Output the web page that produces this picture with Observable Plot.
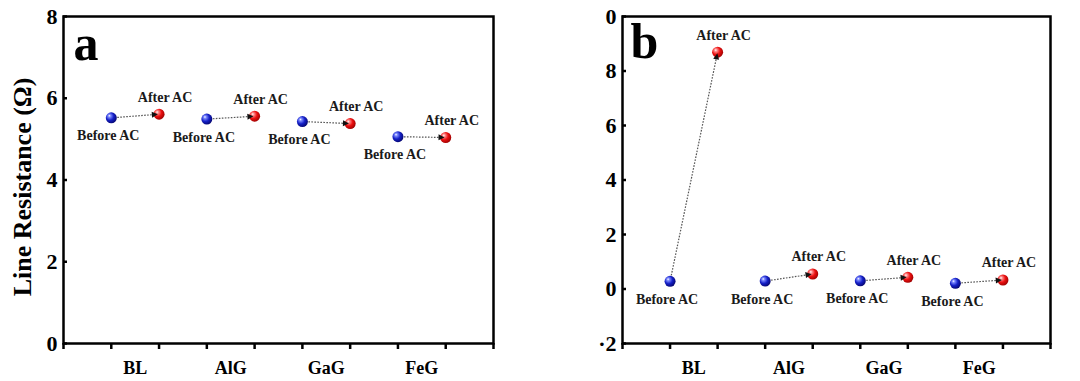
<!DOCTYPE html>
<html>
<head>
<meta charset="utf-8">
<script src="https://cdn.jsdelivr.net/npm/d3@7"></script>
<script src="https://cdn.jsdelivr.net/npm/@observablehq/plot@0.6"></script>
<style>
  html, body { margin: 0; padding: 0; background: #ffffff; }
  #wrap { display: flex; width: 1080px; height: 381px; }
</style>
</head>
<body>
<svg width="0" height="0" style="position:absolute">
  <defs>
    <radialGradient id="gBlue" cx="0.4" cy="0.4" r="0.65" fx="0.32" fy="0.3">
      <stop offset="0" stop-color="#ffffff"/>
      <stop offset="0.18" stop-color="#7f8cff"/>
      <stop offset="0.55" stop-color="#1520c8"/>
      <stop offset="1" stop-color="#04046a"/>
    </radialGradient>
    <radialGradient id="gRed" cx="0.4" cy="0.4" r="0.65" fx="0.32" fy="0.3">
      <stop offset="0" stop-color="#ffffff"/>
      <stop offset="0.18" stop-color="#ff9090"/>
      <stop offset="0.55" stop-color="#ec1010"/>
      <stop offset="1" stop-color="#980000"/>
    </radialGradient>
  </defs>
</svg>
<div id="wrap"></div>
<script>
const categories = ["BL", "AlG", "GaG", "FeG"];
const beforeA = [5.52, 5.49, 5.43, 5.06];
const afterA  = [5.61, 5.56, 5.38, 5.04];
const beforeB = [0.28, 0.29, 0.30, 0.21];
const afterB  = [8.69, 0.55, 0.43, 0.33];
const yTicksA = [0, 2, 4, 6, 8];
const yTickLabelsA = ["0", "2", "4", "6", "8"];
const yTicksB = [-2, 0, 2, 4, 6, 8, 10];
const yTickLabelsB = ["·2", "0", "2", "4", "6", "8", "0"];
const beforeLabel = "Before AC";
const afterLabel = "After AC";
const yLabel = "Line Resistance (Ω)";

const FONT = "'Liberation Serif', 'Times New Roman', serif";

function panel({before, after, yDomain, yTicks, yTickLabels, marginLeft, marginRight, letter, letterDx, letterDy, withYLabel}) {
  const pts = categories.map((c, i) => ({cat: c, xb: 2 * i + 1, xa: 2 * i + 2, yb: before[i], ya: after[i]}));
  const marks = [
    Plot.axisX({ticks: d3.range(0, 10), tickSize: 6, strokeWidth: 2.5, tickFormat: () => "", label: null}),
    Plot.axisX({ticks: [1.5, 3.5, 5.5, 7.5], tickSize: 0, tickPadding: 18, fontSize: 18, label: null,
      tickFormat: d => categories[Math.round((d - 1.5) / 2)]}),
    Plot.axisY({ticks: yTicks, tickSize: -4, tickPadding: 10, strokeWidth: 2.5, fontSize: 22, label: null,
      tickFormat: d => yTickLabels[yTicks.indexOf(d)]}),
    Plot.link(pts, {x1: "xb", y1: "yb", x2: "xa", y2: "ya", stroke: "#555", strokeWidth: 1.2, strokeDasharray: "1.6,1.4"}),
    Plot.dot(pts, {x: "xb", y: "yb", r: 5.5, fill: "url(#gBlue)"}),
    Plot.dot(pts, {x: "xa", y: "ya", r: 5.5, fill: "url(#gRed)"}),
    Plot.link(pts, {x1: "xb", y1: "yb", x2: "xa", y2: "ya", stroke: "#111", strokeOpacity: 0, markerEnd: "arrow"}),
    Plot.text(pts, {x: "xb", y: "yb", text: () => beforeLabel, dx: -3, dy: 18, fontSize: 14, fill: "#1a1a1a"}),
    Plot.text(pts, {x: "xa", y: "ya", text: () => afterLabel, dx: 6, dy: -17, fontSize: 14, fill: "#1a1a1a"}),
    Plot.text([letter], {frameAnchor: "top-left", textAnchor: "start", lineAnchor: "bottom", dx: letterDx, dy: letterDy, fontSize: 50, fill: "#000"}),
    Plot.frame({strokeWidth: 2.5, stroke: "#000"})
  ];
  if (withYLabel) {
    marks.push(Plot.text([yLabel], {frameAnchor: "left", rotate: -90, dx: -41, dy: 7, fontSize: 26, textAnchor: "middle", lineAnchor: "middle", fill: "#000"}));
  }
  const svg = Plot.plot({
    width: 540, height: 381,
    marginLeft, marginRight, marginTop: 16, marginBottom: 38,
    x: {domain: [0, 9]},
    y: {domain: yDomain},
    style: {fontFamily: FONT, fontWeight: "bold", background: "transparent", color: "#000", overflow: "visible"},
    marks
  });
  // restyle the arrow markers as small filled heads
  svg.querySelectorAll("marker").forEach(m => {
    m.setAttribute("viewBox", "0 0 10 10");
    m.setAttribute("refX", "12");
    m.setAttribute("refY", "5");
    m.setAttribute("markerUnits", "userSpaceOnUse");
    m.setAttribute("markerWidth", "7");
    m.setAttribute("markerHeight", "6");
    m.setAttribute("overflow", "visible");
    m.innerHTML = '<path d="M0,0L10,5L0,10Z" fill="#111" stroke="none"></path>';
  });
  return svg;
}

const wrap = document.getElementById("wrap");
wrap.appendChild(panel({before: beforeA, after: afterA, yDomain: [0, 8], yTicks: yTicksA, yTickLabels: yTickLabelsA,
  marginLeft: 63, marginRight: 47, letter: "a", letterDx: 10, letterDy: 43, withYLabel: true}));
wrap.appendChild(panel({before: beforeB, after: afterB, yDomain: [-2, 10], yTicks: yTicksB, yTickLabels: yTickLabelsB,
  marginLeft: 82, marginRight: 30, letter: "b", letterDx: 8, letterDy: 41, withYLabel: false}));
</script>
</body>
</html>
